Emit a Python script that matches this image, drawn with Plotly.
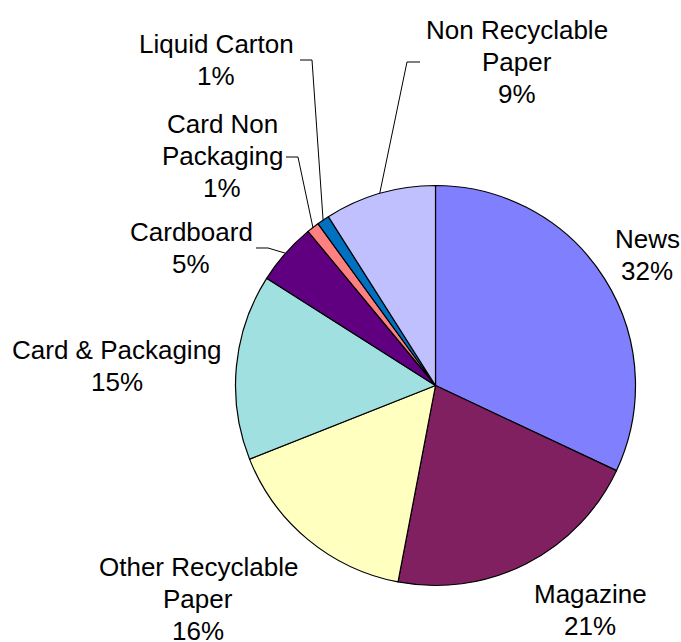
import math
import plotly.graph_objects as go

# Composition of the paper waste stream (% of total)
categories = [
    "News",
    "Magazine",
    "Other Recyclable Paper",
    "Card & Packaging",
    "Cardboard",
    "Card Non Packaging",
    "Liquid Carton",
    "Non Recyclable Paper",
]
shares = [32, 21, 16, 15, 5, 1, 1, 9]
label_lines = [
    ["News"],
    ["Magazine"],
    ["Other Recyclable", "Paper"],
    ["Card & Packaging"],
    ["Cardboard"],
    ["Card Non", "Packaging"],
    ["Liquid Carton"],
    ["Non Recyclable", "Paper"],
]
colors = [
    "#8080FF",
    "#802060",
    "#FFFFC0",
    "#A0E0E0",
    "#600080",
    "#FF8080",
    "#0070C0",
    "#C0C0FF",
]

W, H = 681, 642
CX, CY, R = 435.5, 385.5, 200.0  # pie centre and radius in pixels
FONT_SIZE = 26
LINE_GAP = 32  # distance between label lines in pixels

# Label block centres (pixels)
label_pos = {
    "News": (647, 255),
    "Magazine": (590, 610),
    "Other Recyclable Paper": (198, 599),
    "Card & Packaging": (117, 366),
    "Cardboard": (191, 248),
    "Card Non Packaging": (222, 156),
    "Liquid Carton": (216, 60),
    "Non Recyclable Paper": (517, 62),
}
# Leader lines: start at the label edge, short horizontal run, then to the slice
leaders = {
    "Cardboard": [(256, 248), (268, 248)],
    "Card Non Packaging": [(286, 157), (298, 157)],
    "Liquid Carton": [(300, 60), (312, 60)],
    "Non Recyclable Paper": [(420, 62), (407, 62)],
}


def px(x):
    return x / W


def py(y):
    return 1 - y / H


fig = go.Figure(
    go.Pie(
        labels=categories,
        values=shares,
        sort=False,
        direction="clockwise",
        rotation=0,
        marker=dict(colors=colors, line=dict(color="black", width=1.2)),
        textinfo="none",
        hoverinfo="label+percent",
        showlegend=False,
        domain=dict(x=[px(CX - R), px(CX + R)], y=[py(CY + R), py(CY - R)]),
    )
)

total = sum(shares)
cum = 0
annotations = []
shapes = []
for name, lines, v in zip(categories, label_lines, shares):
    mid = 2 * math.pi * (cum + v / 2) / total
    cum += v
    lx, ly = label_pos[name]
    rows = lines + [f"{v}%"]
    n = len(rows)
    for i, row in enumerate(rows):
        annotations.append(
            dict(
                x=px(lx),
                y=py(ly + (i - (n - 1) / 2) * LINE_GAP),
                xref="paper",
                yref="paper",
                text=row,
                showarrow=False,
                xanchor="center",
                yanchor="middle",
                font=dict(family="Arial, Liberation Sans, sans-serif",
                          size=FONT_SIZE, color="black"),
            )
        )
    if name in leaders:
        ex = CX + R * math.sin(mid)
        ey = CY - R * math.cos(mid)
        pts = leaders[name] + [(ex, ey)]
        path = "M " + " L ".join(f"{px(x):.5f} {py(y):.5f}" for x, y in pts)
        shapes.append(
            dict(type="path", xref="paper", yref="paper", path=path,
                 line=dict(color="black", width=1))
        )

fig.update_layout(
    width=W,
    height=H,
    margin=dict(l=0, r=0, t=0, b=0),
    paper_bgcolor="white",
    plot_bgcolor="white",
    annotations=annotations,
    shapes=shapes,
    showlegend=False,
)

fig.write_html("out.html")
